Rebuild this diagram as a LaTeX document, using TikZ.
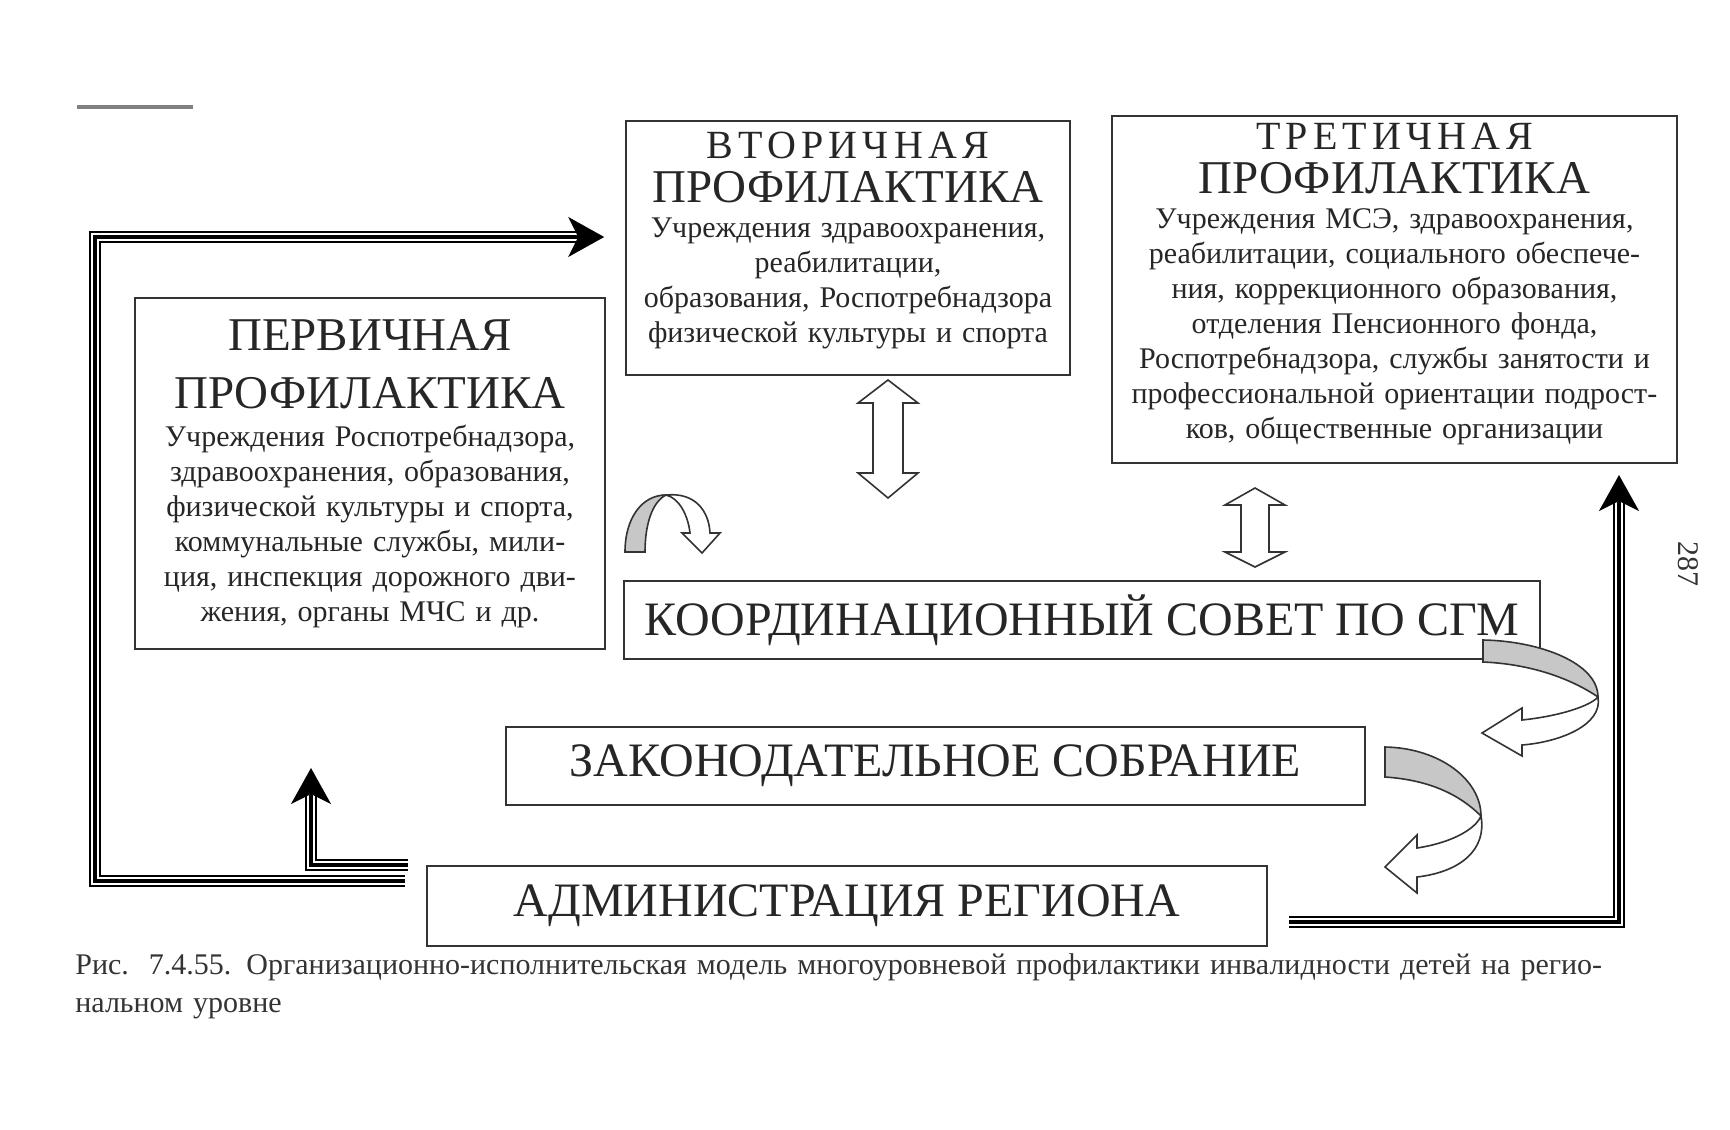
\documentclass[tikz,border=0pt]{standalone}
\usepackage{fontspec}
\setmainfont{Liberation Serif}
\newfontfamily\spacedcaps[LetterSpace=13]{Liberation Serif}
\usetikzlibrary{arrows.meta}

\begin{document}
\begin{tikzpicture}[x=0.5pt, y=-0.5pt,
    tripleline/.style={line width=6pt, line join=miter,
      postaction={draw=white, line width=3.8pt},
      postaction={draw=black, line width=1.6pt}},
    tiphead/.style={line width=1pt, -{Stealth[length=18pt, width=20pt, inset=5pt]}},
    hollow/.style={draw=black!80, line width=0.8pt, fill=white, line join=miter},
    ribbon/.style={draw=black!80, line width=0.8pt, fill=black!22}]
  \useasboundingbox (0,0) rectangle (1730,1130);
  \draw[black!50, line width=2pt] (77,107) -- (193,107);

  \begin{scope}
    % boxes
    \begin{scope}[every node/.style={draw=black!80, line width=0.8pt, inner sep=0pt,
        align=center, text=black!85, font=\fontsize{15}{17.5}\selectfont}]
      \node[minimum width=235pt, minimum height=175.5pt, text width=226pt] (prim) at (370,473.5)
        {{\fontsize{23.5}{29}\selectfont ПЕРВИЧНАЯ\\ПРОФИЛАКТИКА\par}\vspace{1.5pt}
         Учреждения Роспотребнадзора,\\здравоохранения, образования,\\физической культуры и спорта,\\
         коммунальные службы, мили-\\ция, инспекция дорожного дви-\\жения, органы МЧС и др.};
      \node[minimum width=222pt, minimum height=127pt, text width=216pt] (sec) at (848,248)
        {{\spacedcaps\fontsize{20}{22}\selectfont ВТОРИЧНАЯ\par}{\fontsize{23.5}{22}\selectfont ПРОФИЛАКТИКА\par}
         Учреждения здравоохранения,\\реабилитации,\\образования, Роспотребнадзора\\физической культуры и спорта\par\vspace{8pt}};
      \node[minimum width=282.5pt, minimum height=173.5pt, text width=276pt] (ter) at (1394.5,289.5)
        {{\spacedcaps\fontsize{20}{22}\selectfont ТРЕТИЧНАЯ\par}{\fontsize{23.5}{22}\selectfont ПРОФИЛАКТИКА\par}
         Учреждения МСЭ, здравоохранения,\\реабилитации, социального обеспече-\\ния, коррекционного образования,\\
         отделения Пенсионного фонда,\\Роспотребнадзора, службы занятости и\\
         профессиональной ориентации подрост-\\ков, общественные организации\par\vspace{6pt}};
    \end{scope}
    \begin{scope}[every node/.style={draw=black!80, line width=0.8pt, inner sep=0pt,
        text=black!85, font=\fontsize{24}{28}\selectfont}]
      \node[minimum width=458pt, minimum height=39pt] (coun) at (1082,620) {КООРДИНАЦИОННЫЙ СОВЕТ ПО СГМ};
      \node[minimum width=429.5pt, minimum height=39pt] (legis) at (935.5,766) {ЗАКОНОДАТЕЛЬНОЕ СОБРАНИЕ};
      \node[minimum width=420pt, minimum height=40pt] (adm) at (847,906) {АДМИНИСТРАЦИЯ РЕГИОНА};
    \end{scope}

    % connectors
    \coordinate (admL) at (405,881);
    \coordinate (tipS) at ([xshift=-10.5pt, yshift=5.5pt]sec.west);
    \coordinate (admS) at (408,865);
    \coordinate (tipP) at (311,768);
    \coordinate (admR) at (1289,922);
    \coordinate (tipT) at (1619,475);
    \draw[tripleline] (admL) -- (95,881) -- (95,237) -- ([xshift=-13pt]tipS);
    \draw[tiphead] ([xshift=-18pt]tipS) -- (tipS);
    \draw[tripleline] (admS) -- (311,865) -- ([yshift=-13.5pt]tipP);
    \draw[tiphead] ([yshift=-18.5pt]tipP) -- (tipP);
    \draw[tripleline] (admR) -- (1619,922) -- ([yshift=-13.5pt]tipT);
    \draw[tiphead] ([yshift=-18.5pt]tipT) -- (tipT);

    % hollow double arrows
    \draw[hollow] (888,380) -- (918,403) -- (903,403) -- (903,473) -- (918,473) -- (888,498)
      -- (858,473) -- (873,473) -- (873,403) -- (858,403) -- cycle;
    \draw[hollow] (1255,488) -- (1285,505) -- (1269,505) -- (1269,552) -- (1285,552) -- (1255,567)
      -- (1225,552) -- (1241,552) -- (1241,505) -- (1225,505) -- cycle;

    % curved arrows
    \draw[ribbon] (625,552) .. controls (625,518) and (642,495) .. (666,495)
      .. controls (652,502) and (645,525) .. (645,552) -- cycle;
    \draw[hollow] (666,495) .. controls (696,492) and (709,512) .. (710,533) -- (720,533) -- (702,553)
      -- (682,533) -- (690,533) .. controls (688,515) and (679,498) .. (666,495) -- cycle;
    \draw[ribbon] (1483,640) .. controls (1540,641) and (1598,663) .. (1598,697)
      .. controls (1570,678) and (1530,664) .. (1483,662) -- cycle;
    \draw[hollow] (1598,697) .. controls (1603,725) and (1560,742) .. (1522,745) -- (1522,756) -- (1482,733)
      -- (1522,708) -- (1522,720) .. controls (1560,716) and (1590,706) .. (1598,697) -- cycle;
    \draw[ribbon] (1385,747) .. controls (1440,748) and (1481,780) .. (1481,816)
      .. controls (1460,795) and (1430,780) .. (1385,777) -- cycle;
    \draw[hollow] (1481,816) .. controls (1487,850) and (1460,872) .. (1417,877) -- (1417,893) -- (1385,867)
      -- (1417,835) -- (1417,848) .. controls (1450,843) and (1475,830) .. (1481,816) -- cycle;

    % page number and caption
    \node[rotate=-90, inner sep=0pt, text=black!80, font=\fontsize{15}{18}\selectfont] (pagenum) at (1688,564) {287};
    \node[anchor=north west, inner sep=0pt, align=left, text width=800pt, text=black!80,
      font=\fontsize{15}{19}\selectfont] (capt) at (75,953)
      {Рис.~~7.4.55. Организационно-исполнительская модель многоуровневой профилактики инвалидности детей на регио-\\нальном уровне};
  \end{scope}
\end{tikzpicture}
\end{document}
